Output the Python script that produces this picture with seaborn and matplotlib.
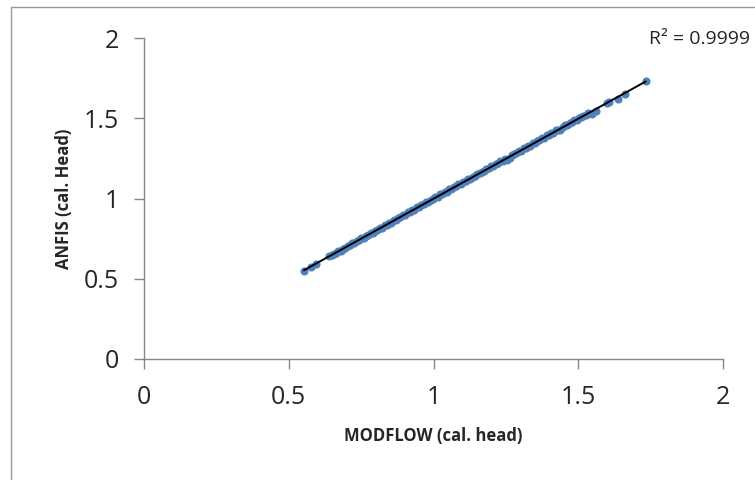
import matplotlib
matplotlib.use("Agg")
import matplotlib.pyplot as plt
import seaborn as sns
import pandas as pd
from matplotlib.patches import Rectangle

# values
modflow = [0.552, 0.578, 0.593, 0.639, 0.648, 0.655, 0.662, 0.671, 0.679, 0.686,
           0.694, 0.703, 0.711, 0.718, 0.726, 0.735, 0.742, 0.751, 0.759, 0.766,
           0.774, 0.783, 0.791, 0.798, 0.806, 0.815, 0.822, 0.831, 0.839, 0.846,
           0.854, 0.863, 0.871, 0.878, 0.886, 0.895, 0.902, 0.911, 0.919, 0.926,
           0.934, 0.943, 0.951, 0.958, 0.966, 0.975, 0.982, 0.991, 0.999, 1.006,
           1.014, 1.023, 1.031, 1.038, 1.046, 1.055, 1.062, 1.071, 1.079, 1.086,
           1.094, 1.103, 1.111, 1.118, 1.126, 1.135, 1.142, 1.151, 1.159, 1.166,
           1.174, 1.183, 1.191, 1.198, 1.206, 1.215, 1.222, 1.231, 1.239, 1.246,
           1.254, 1.263, 1.271, 1.278, 1.286, 1.295, 1.302, 1.311, 1.319, 1.326,
           1.334, 1.343, 1.351, 1.358, 1.366, 1.375, 1.382, 1.391, 1.399, 1.406,
           1.414, 1.423, 1.431, 1.438, 1.446, 1.455, 1.462, 1.471, 1.479, 1.486,
           1.494, 1.503, 1.511, 1.518, 1.526, 1.535, 1.547, 1.560, 1.598, 1.607,
           1.637, 1.662, 1.733]
anfis = [0.548, 0.575, 0.592, 0.639, 0.645, 0.657, 0.659, 0.673, 0.676, 0.688,
         0.691, 0.705, 0.708, 0.720, 0.722, 0.737, 0.739, 0.753, 0.755, 0.768,
         0.771, 0.785, 0.787, 0.800, 0.803, 0.817, 0.818, 0.833, 0.836, 0.848,
         0.850, 0.865, 0.868, 0.880, 0.882, 0.897, 0.899, 0.913, 0.915, 0.928,
         0.931, 0.945, 0.947, 0.960, 0.963, 0.977, 0.978, 0.993, 0.996, 1.008,
         1.010, 1.025, 1.028, 1.040, 1.042, 1.057, 1.059, 1.073, 1.075, 1.088,
         1.091, 1.105, 1.107, 1.120, 1.123, 1.137, 1.138, 1.153, 1.156, 1.168,
         1.170, 1.185, 1.188, 1.200, 1.202, 1.217, 1.219, 1.233, 1.235, 1.248,
         1.242, 1.250, 1.269, 1.280, 1.283, 1.297, 1.298, 1.313, 1.316, 1.328,
         1.330, 1.345, 1.348, 1.360, 1.362, 1.377, 1.379, 1.393, 1.395, 1.408,
         1.411, 1.425, 1.427, 1.425, 1.443, 1.457, 1.458, 1.473, 1.476, 1.488,
         1.490, 1.504, 1.507, 1.514, 1.520, 1.531, 1.528, 1.548, 1.598, 1.603,
         1.620, 1.654, 1.731]
ticks = [0, 0.5, 1, 1.5, 2]
tick_labels = ["0", "0.5", "1", "1.5", "2"]
r2_label = "R² = 0.9999"

sns.set_style("white")
plt.rcParams['font.family'] = ['Open Sans', 'DejaVu Sans']

df = pd.DataFrame({"MODFLOW": modflow, "ANFIS": anfis})

fig = plt.figure(figsize=(7.55, 4.8), dpi=100)
ax = fig.add_axes([144 / 755, 1 - 359 / 480, 579 / 755, 321 / 480])

sns.regplot(data=df, x="MODFLOW", y="ANFIS", ax=ax, ci=None,
            scatter_kws={"s": 34, "color": "#4F81BD", "linewidths": 0, "alpha": 1},
            line_kws={"color": "black", "lw": 1.4})

ax.set_xlim(0, 2)
ax.set_ylim(0, 2)
ax.set_xticks(ticks)
ax.set_xticklabels(tick_labels)
ax.set_yticks(ticks)
ax.set_yticklabels(tick_labels)
ax.tick_params(axis="both", direction="out", length=7, width=1, color="#868686",
               labelsize=18, left=True, bottom=True)
ax.tick_params(axis="y", pad=11)
ax.tick_params(axis="x", pad=12)

for side in ["top", "right"]:
    ax.spines[side].set_visible(False)
for side in ["left", "bottom"]:
    ax.spines[side].set_color("#868686")
    ax.spines[side].set_linewidth(1)

ax.set_xlabel("MODFLOW (cal. head)", fontsize=12, fontweight="bold", labelpad=12)
ax.set_ylabel("ANFIS (cal. Head)", fontsize=12, fontweight="bold", labelpad=8)

fig.text(0.993, 0.918, r2_label, fontsize=14, ha="right", va="center")

# outer chart border (Excel chart area)
fig.patches.append(Rectangle((11 / 755, -0.1), 1, 1.1 - 7 / 480, transform=fig.transFigure,
                             fill=False, edgecolor="#9a9a9a", linewidth=1))

fig.savefig("out.png", dpi=100, facecolor="white")
